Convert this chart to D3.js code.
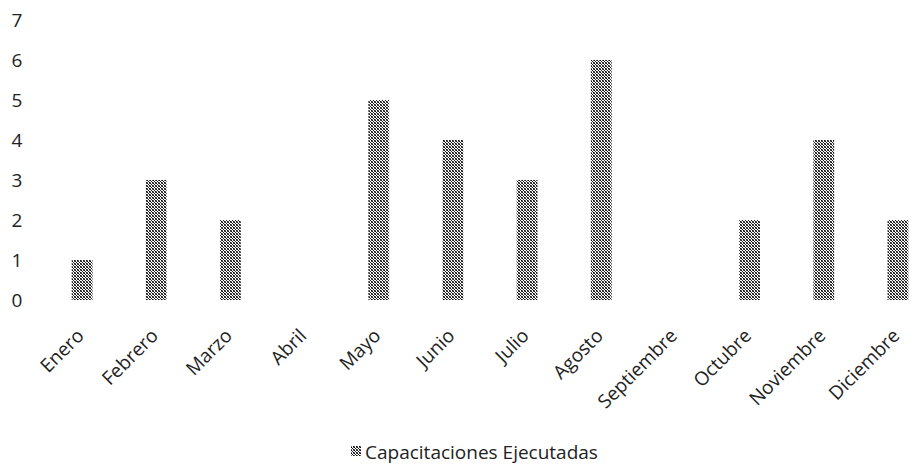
<!DOCTYPE html>
<html>
<head>
<meta charset="utf-8">
<script src="https://cdn.jsdelivr.net/npm/d3@7"></script>
<style>
  html, body { margin: 0; padding: 0; background: #fff; }
  svg { display: block; }
  text { font-family: "Open Sans", Lato, sans-serif; fill: #222; }
</style>
</head>
<body>
<svg id="chart" width="924" height="466"></svg>
<script>
const categories = ["Enero","Febrero","Marzo","Abril","Mayo","Junio","Julio","Agosto","Septiembre","Octubre","Noviembre","Diciembre"];
const values = [1,3,2,0,5,4,3,6,0,2,4,2];
const yTicks = [0,1,2,3,4,5,6,7];
const seriesName = "Capacitaciones Ejecutadas";

const svg = d3.select("#chart");
const margin = {left: 45, top: 20, bottom: 166};
const plotRight = 935;
const height = 466;

const defs = svg.append("defs");
const pat = defs.append("pattern")
  .attr("id", "halftone").attr("patternUnits", "userSpaceOnUse")
  .attr("width", 3).attr("height", 3);
pat.append("rect").attr("width", 3).attr("height", 3).attr("fill", "#fff");
pat.append("rect").attr("x", 0).attr("y", 0).attr("width", 1).attr("height", 1).attr("fill", "#111");
pat.append("rect").attr("x", 1).attr("y", 1).attr("width", 1).attr("height", 1).attr("fill", "#222");
pat.append("rect").attr("x", 2).attr("y", 2).attr("width", 1).attr("height", 1).attr("fill", "#111");
pat.append("rect").attr("x", 2).attr("y", 0).attr("width", 1).attr("height", 1).attr("fill", "#555");
pat.append("rect").attr("x", 0).attr("y", 2).attr("width", 1).attr("height", 1).attr("fill", "#666");

const x = d3.scaleBand().domain(categories).range([margin.left, plotRight]).paddingInner(0.72).paddingOuter(0.36);
const y = d3.scaleLinear().domain([0, 7]).range([height - margin.bottom, margin.top]);

// Y axis labels
const yAxis = d3.axisLeft(y).tickValues(yTicks).tickSize(0).tickPadding(0).tickFormat(d3.format("d"));
const gy = svg.append("g").attr("transform", "translate(17,0)").call(yAxis);
gy.select(".domain").remove();
gy.selectAll("text").style("font-size", "19px").attr("text-anchor", "middle").attr("dy", "0.36em").attr("fill", "#222");

// Bars
svg.append("g").selectAll("rect").data(categories).join("rect")
  .attr("x", d => x(d))
  .attr("y", (d, i) => y(values[i]))
  .attr("width", x.bandwidth())
  .attr("height", (d, i) => y(0) - y(values[i]))
  .attr("fill", "url(#halftone)");

// X axis labels
const xAxis = d3.axisBottom(x).tickSize(0).tickPadding(0);
const gx = svg.append("g").attr("transform", `translate(0,${y(0)})`).call(xAxis);
gx.select(".domain").remove();
gx.selectAll("text")
  .style("font-size", "19px")
  .attr("fill", "#222")
  .attr("text-anchor", "end")
  .attr("dy", "0")
  .attr("y", 0)
  .attr("transform", "translate(3,37) rotate(-45)");

// Legend
const lg = svg.append("g");
lg.append("text")
  .attr("x", 365).attr("y", 459)
  .style("font-size", "19px")
  .text(seriesName);
lg.append("rect").attr("x", 351).attr("y", 446).attr("width", 10).attr("height", 10).attr("fill", "url(#halftone)");
</script>
</body>
</html>
